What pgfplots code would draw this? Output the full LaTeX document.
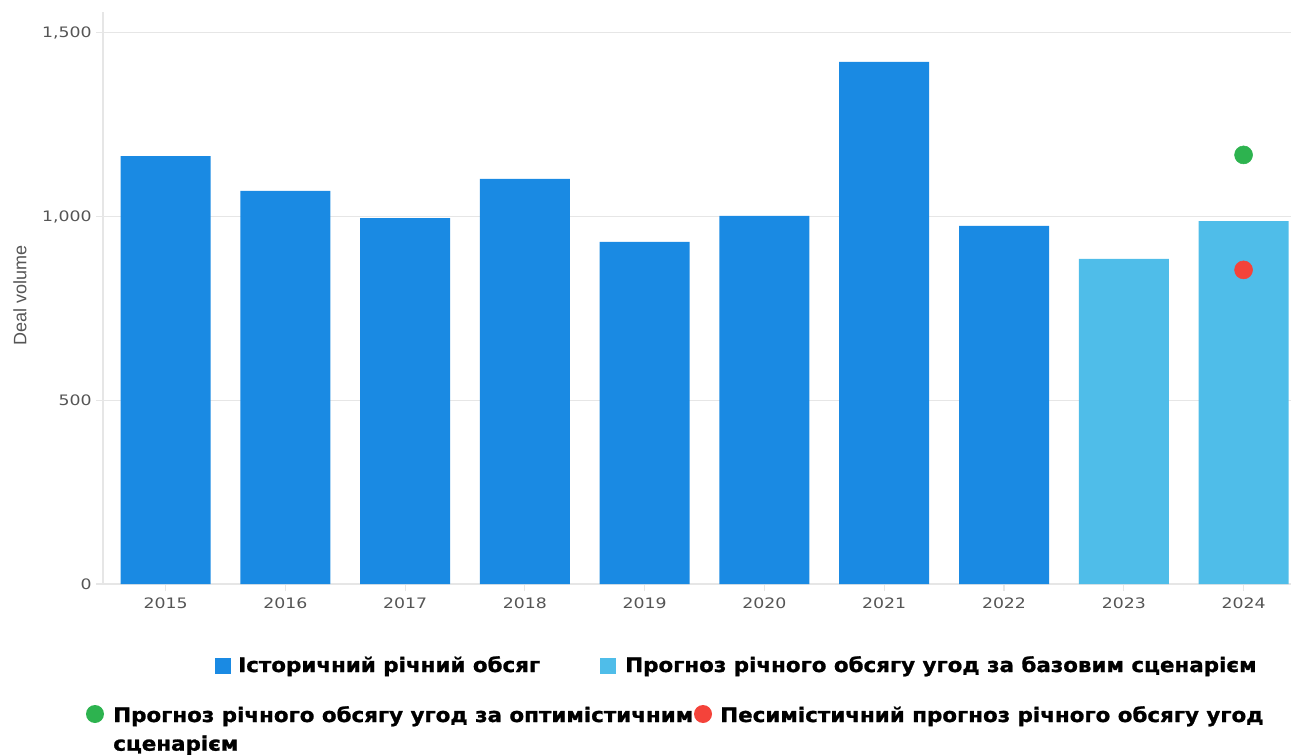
\documentclass[border=0pt]{standalone}
\usepackage{fontspec}
\setmainfont{DejaVu Sans}
\newfontfamily\tickfont[FakeStretch=1.2]{DejaVu Sans}
\newfontfamily\legfont[FakeStretch=1.07,FakeBold=1.2]{DejaVu Sans Bold}
\newfontfamily\labfont{Liberation Sans}
\usepackage{pgfplots}
\pgfplotsset{compat=1.18}
\definecolor{hist}{HTML}{1A8AE3}
\definecolor{base}{HTML}{4FBDE9}
\definecolor{opt}{HTML}{2DB34F}
\definecolor{pes}{HTML}{F4433A}
\definecolor{gridc}{HTML}{E6E6E6}
\definecolor{tickc}{HTML}{555555}
\begin{document}
\begin{tikzpicture}
\useasboundingbox (0,0) rectangle (969pt,565.5pt);
\begin{axis}[
  at={(77.25pt,127.5pt)}, anchor=south west,
  scale only axis, width=891pt, height=429pt,
  xmin=-0.522, xmax=9.396, ymin=0, ymax=1557,
  separate axis lines,
  axis x line*=bottom, axis y line*=left,
  axis line style={gridc, line width=0.8pt},
  ytick={0,500,1000,1500},
  xtick={0,...,9},
  xticklabels={2015,2016,2017,2018,2019,2020,2021,2022,2023,2024},
  ymajorgrids, grid style={gridc, line width=0.8pt},
  tick style={gridc, line width=0.8pt}, tick align=outside, major tick length=5pt,
  /pgf/number format/assume math mode=true,
  ticklabel style={font=\tickfont\fontsize{10.8}{13}\selectfont, text=tickc},
  x tick label style={yshift=-2pt},
  y tick label style={/pgf/number format/1000 sep={,}},
  xlabel={}, ylabel={Deal volume},
  ylabel style={at={(axis description cs:-0.070,0.505)}, anchor=center, font=\labfont\fontsize{13.5}{16}\selectfont, text=tickc},
  clip=false,
]
\addplot[ybar, bar width=67.5pt, fill=hist, draw=none] coordinates {
  (0,1165) (1,1070) (2,996) (3,1103) (4,931) (5,1002) (6,1421) (7,975)
};
\addplot[ybar, bar width=67.5pt, fill=base, draw=none] coordinates {
  (8,885) (9,988)
};
\addplot[only marks, mark=*, mark size=6.75pt, color=opt] coordinates {(9,1168)};
\addplot[only marks, mark=*, mark size=6.75pt, color=pes] coordinates {(9,855)};
\end{axis}
\tikzset{lg/.style={anchor=base west, inner sep=0pt, font=\legfont\fontsize{15}{18}\selectfont}}
\fill[hist] (161.25pt,60pt) rectangle (173.25pt,72pt);
\node[lg] at (178.5pt,61.5pt) {Історичний річний обсяг};
\fill[base] (450pt,60pt) rectangle (462pt,72pt);
\node[lg] at (468.75pt,61.5pt) {Прогноз річного обсягу угод за базовим сценарієм};
\fill[opt] (71.25pt,30pt) circle (6.75pt);
\node[lg] at (84.75pt,24pt) {Прогноз річного обсягу угод за оптимістичним};
\fill[pes] (527.25pt,30pt) circle (6.75pt);
\node[lg] at (540pt,24pt) {Песимістичний прогноз річного обсягу угод};
\node[lg] at (84.75pt,2.5pt) {сценарієм};
\end{tikzpicture}
\end{document}
